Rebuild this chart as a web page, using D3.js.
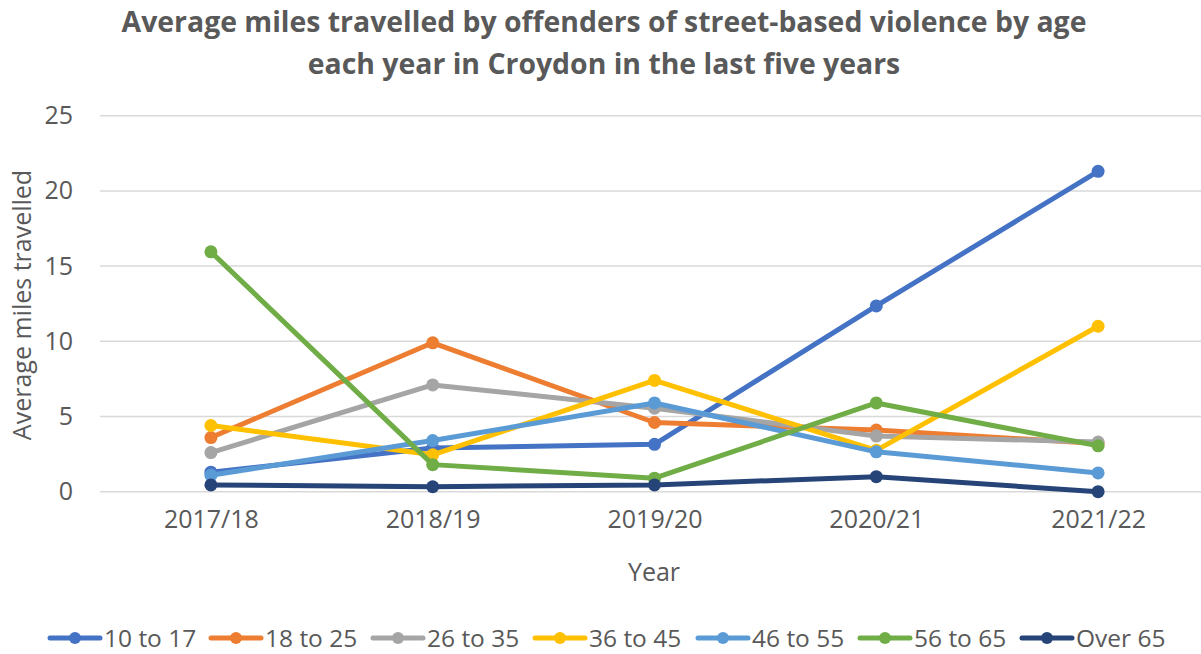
<!DOCTYPE html>
<html>
<head>
<meta charset="utf-8">
<script src="https://cdn.jsdelivr.net/npm/d3@7"></script>
<style>
  body { margin: 0; background: #fff; }
  svg text { font-family: "Open Sans", sans-serif; fill: #595959; }
</style>
</head>
<body>
<svg id="chart" width="1201" height="654"></svg>
<script>
const years = ["2017/18", "2018/19", "2019/20", "2020/21", "2021/22"];
const groups = ["10 to 17", "18 to 25", "26 to 35", "36 to 45", "46 to 55", "56 to 65", "Over 65"];
const colors = ["#4472c4", "#ed7d31", "#a5a5a5", "#ffc000", "#5b9bd5", "#70ad47", "#264478"];

const age10to17 = [1.3, 2.9, 3.15, 12.35, 21.3];
const age18to25 = [3.6, 9.9, 4.6, 4.1, 3.2];
const age26to35 = [2.6, 7.1, 5.55, 3.7, 3.3];
const age36to45 = [4.4, 2.45, 7.4, 2.75, 11.0];
const age46to55 = [1.1, 3.4, 5.9, 2.65, 1.25];
const age56to65 = [15.95, 1.8, 0.9, 5.9, 3.05];
const over65 = [0.45, 0.33, 0.45, 1.0, 0.0];

const yTicks = [0, 5, 10, 15, 20, 25];

const series = groups.map((name, i) => ({
  name,
  color: colors[i],
  values: [age10to17, age18to25, age26to35, age36to45, age46to55, age56to65, over65][i]
}));

const svg = d3.select("#chart");

const x = d3.scalePoint().domain(years).range([100, 1209]).padding(0.5);
const y = d3.scaleLinear().domain([0, 25]).range([491.7, 115.7]);

// title
svg.append("text")
  .attr("x", 604).attr("y", 32)
  .attr("text-anchor", "middle")
  .style("font-size", "28.4px").style("font-weight", "bold")
  .text("Average miles travelled by offenders of street-based violence by age");
svg.append("text")
  .attr("x", 604).attr("y", 74)
  .attr("text-anchor", "middle")
  .style("font-size", "28.4px").style("font-weight", "bold")
  .text("each year in Croydon in the last five years");

// gridlines
svg.append("g").selectAll("line")
  .data(yTicks)
  .join("line")
  .attr("x1", 100).attr("x2", 1201)
  .attr("y1", d => y(d)).attr("y2", d => y(d))
  .attr("stroke", "#d9d9d9").attr("stroke-width", 1.5);

// y axis labels
const yAxis = svg.append("g")
  .attr("transform", "translate(100,0)")
  .call(d3.axisLeft(y).tickValues(yTicks).tickSize(0).tickPadding(27));
yAxis.select(".domain").remove();
yAxis.selectAll("text").style("font-size", "25px").style("fill", "#595959");

// x axis labels
const xAxis = svg.append("g")
  .attr("transform", "translate(0,510)")
  .call(d3.axisBottom(x).tickSize(0).tickPadding(0));
xAxis.select(".domain").remove();
xAxis.selectAll("text").style("font-size", "25px").style("fill", "#595959").attr("dy", "0.71em");

// axis titles
svg.append("text")
  .attr("transform", "translate(31,305) rotate(-90)")
  .attr("text-anchor", "middle")
  .style("font-size", "25px")
  .text("Average miles travelled");
svg.append("text")
  .attr("x", 654).attr("y", 581)
  .attr("text-anchor", "middle")
  .style("font-size", "25px")
  .text("Year");

// lines
const line = d3.line()
  .x((d, i) => x(years[i]))
  .y(d => y(d));

const seriesG = svg.append("g").selectAll("g")
  .data(series)
  .join("g");

seriesG.append("path")
  .attr("d", d => line(d.values))
  .attr("fill", "none")
  .attr("stroke", d => d.color)
  .attr("stroke-width", 5)
  .attr("stroke-linejoin", "round")
  .attr("stroke-linecap", "round");

seriesG.selectAll("circle")
  .data(d => d.values.map((v, i) => ({ v, i, color: d.color })))
  .join("circle")
  .attr("cx", d => x(years[d.i]))
  .attr("cy", d => y(d.v))
  .attr("r", 6.5)
  .attr("fill", d => d.color);

// legend
const legendX = [50, 211, 373, 535, 698, 860, 1022];
const legend = svg.append("g").selectAll("g")
  .data(series)
  .join("g")
  .attr("transform", (d, i) => `translate(${legendX[i]},638)`);

legend.append("line")
  .attr("x1", 0).attr("x2", 50)
  .attr("stroke", d => d.color)
  .attr("stroke-width", 5)
  .attr("stroke-linecap", "round");
legend.append("circle")
  .attr("cx", 25).attr("r", 6)
  .attr("fill", d => d.color);
legend.append("text")
  .attr("x", 54).attr("dy", "0.35em")
  .style("font-size", "24.5px")
  .text(d => d.name);
</script>
</body>
</html>
